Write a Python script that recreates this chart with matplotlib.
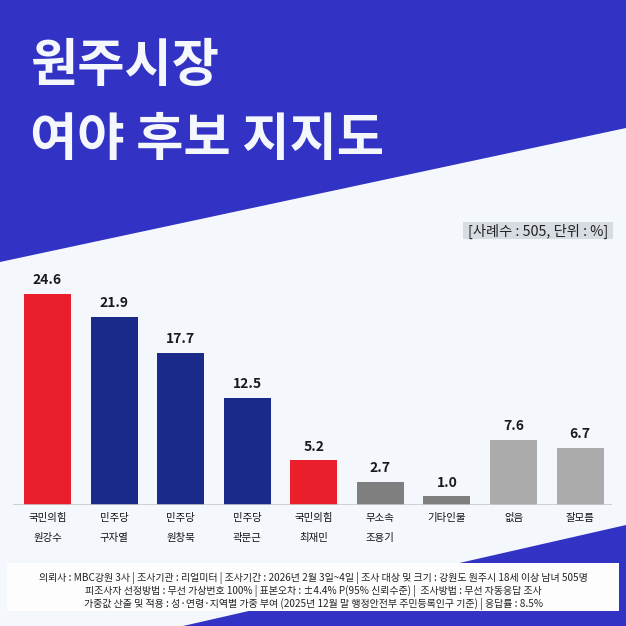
import numpy as np
import matplotlib
matplotlib.use('Agg')
import matplotlib.pyplot as plt
from matplotlib.patches import Polygon, Rectangle

plt.rcParams['font.family'] = ['Noto Sans CJK KR', 'DejaVu Sans']

# 데이터
party = ['국민의힘', '민주당', '민주당', '민주당', '국민의힘', '무소속', '기타인물', '없음', '잘모름']
names = ['원강수', '구자열', '원창묵', '곽문근', '최재민', '조용기', '', '', '']
values = [24.6, 21.9, 17.7, 12.5, 5.2, 2.7, 1.0, 7.6, 6.7]
bar_colors = ['#eb1f2c', '#1a2a8a', '#1a2a8a', '#1a2a8a', '#eb1f2c',
              '#7f7f7f', '#7f7f7f', '#ababab', '#ababab']

title1 = '원주시장'
title2 = '여야 후보 지지도'
unit_note = '[사례수 : 505, 단위 : %]'
footer = [
    '의뢰사 : MBC강원 3사 | 조사기관 : 리얼미터 | 조사기간 : 2026년 2월 3일~4일 | 조사 대상 및 크기 : 강원도 원주시 18세 이상 남녀 505명',
    '피조사자 선정방법 : 무선 가상번호 100% | 표본오차 : ±4.4% P(95% 신뢰수준) |  조사방법 : 무선 자동응답 조사',
    '가중값 산출 및 적용 : 성·연령·지역별 가중 부여 (2025년 12월 말 행정안전부 주민등록인구 기준) | 응답률 : 8.5%',
]

W = H = 626
fig = plt.figure(figsize=(6.26, 6.26), dpi=100)
fig.patch.set_facecolor('#f4f8fd')

# 배경 도형 (픽셀 좌표)
bg = fig.add_axes([0, 0, 1, 1])
bg.set_xlim(0, W)
bg.set_ylim(H, 0)
bg.axis('off')
bg.add_patch(Polygon([(0, 0), (W, 0), (W, 128), (0, 262)], closed=True,
                     facecolor='#3232c4', edgecolor='none'))
bg.add_patch(Polygon([(183, H), (W, 525), (W, H)], closed=True,
                     facecolor='#3232c4', edgecolor='none'))
bg.add_patch(Rectangle((7, 563), 612, 48, facecolor='#fdfdfe', edgecolor='none'))
bg.add_patch(Rectangle((463, 222), 150, 17, facecolor='#d7dbe2', edgecolor='none'))

bg.text(30, 65, title1, fontsize=37, fontweight='bold', color='#f4f8fd',
        ha='left', va='center')
bg.text(30, 139, title2, fontsize=37, fontweight='bold', color='#f4f8fd',
        ha='left', va='center')
bg.text(538, 231, unit_note, fontsize=10.3, color='#222222', ha='center', va='center')

for i, line in enumerate(footer):
    bg.text(313, 578 + i * 13, line, fontsize=7.2, color='#222222',
            ha='center', va='center')

# 막대 그래프
ax = fig.add_axes([13 / W, 1 - 505 / H, 599 / W, 240 / H])
ax.patch.set_alpha(0)
x = np.arange(len(values))
ax.bar(x, values, width=0.707, color=bar_colors)
ax.set_xlim(-0.519, 8.48)
ax.set_ylim(0, 28)
ax.axhline(0, color='#c8c8c8', lw=1.2)
for s in ax.spines.values():
    s.set_visible(False)
ax.set_xticks([])
ax.set_yticks([])

for i, v in enumerate(values):
    ax.annotate(f'{v:.1f}', xy=(i, v), xytext=(0, 10), textcoords='offset points',
                ha='center', va='center', fontsize=10, fontweight='bold', color='#1a1a1a')
    ax.annotate(party[i], xy=(i, 0), xytext=(0, -9.5), textcoords='offset points',
                ha='center', va='center', fontsize=7.5, color='#111111')
    if names[i]:
        ax.annotate(names[i], xy=(i, 0), xytext=(0, -23.5), textcoords='offset points',
                    ha='center', va='center', fontsize=7.5, color='#111111')

fig.savefig('out.png', dpi=100, facecolor=fig.get_facecolor())
